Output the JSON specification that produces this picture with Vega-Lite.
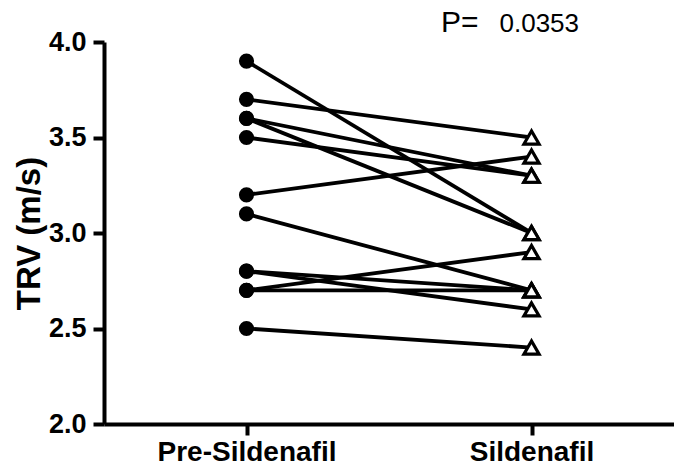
{
  "$schema": "https://vega.github.io/schema/vega-lite/v6.json",
  "width": 570,
  "height": 382,
  "autosize": "none",
  "padding": {"left": 104, "top": 42, "right": 0, "bottom": 49},
  "background": "white",
  "config": {
    "view": {"stroke": null},
    "font": "Liberation Sans",
    "axis": {"domainWidth": 4, "tickWidth": 4, "domainColor": "#000000", "tickColor": "#000000"}
  },
  "datasets": {
    "trv": [
      {"id": 1, "phase": "Pre-Sildenafil", "trv": 3.9},
      {"id": 1, "phase": "Sildenafil", "trv": 3.0},
      {"id": 2, "phase": "Pre-Sildenafil", "trv": 3.7},
      {"id": 2, "phase": "Sildenafil", "trv": 3.5},
      {"id": 3, "phase": "Pre-Sildenafil", "trv": 3.6},
      {"id": 3, "phase": "Sildenafil", "trv": 3.3},
      {"id": 4, "phase": "Pre-Sildenafil", "trv": 3.6},
      {"id": 4, "phase": "Sildenafil", "trv": 3.0},
      {"id": 5, "phase": "Pre-Sildenafil", "trv": 3.5},
      {"id": 5, "phase": "Sildenafil", "trv": 3.3},
      {"id": 6, "phase": "Pre-Sildenafil", "trv": 3.2},
      {"id": 6, "phase": "Sildenafil", "trv": 3.4},
      {"id": 7, "phase": "Pre-Sildenafil", "trv": 3.1},
      {"id": 7, "phase": "Sildenafil", "trv": 2.7},
      {"id": 8, "phase": "Pre-Sildenafil", "trv": 2.8},
      {"id": 8, "phase": "Sildenafil", "trv": 2.7},
      {"id": 9, "phase": "Pre-Sildenafil", "trv": 2.8},
      {"id": 9, "phase": "Sildenafil", "trv": 2.6},
      {"id": 10, "phase": "Pre-Sildenafil", "trv": 2.7},
      {"id": 10, "phase": "Sildenafil", "trv": 2.9},
      {"id": 11, "phase": "Pre-Sildenafil", "trv": 2.7},
      {"id": 11, "phase": "Sildenafil", "trv": 2.7},
      {"id": 12, "phase": "Pre-Sildenafil", "trv": 2.5},
      {"id": 12, "phase": "Sildenafil", "trv": 2.4}
    ],
    "ptext": [
      {"phase": "Sildenafil", "trv": 4.05, "label": "P=", "kind": "p"},
      {"phase": "Sildenafil", "trv": 4.05, "label": "0.0353", "kind": "v"}
    ]
  },
  "layer": [
    {
      "data": {"name": "trv"},
      "mark": {"type": "line", "color": "black", "strokeWidth": 3.8},
      "encoding": {
        "detail": {"field": "id", "type": "nominal"},
        "x": {
          "field": "phase",
          "type": "nominal",
          "scale": {"type": "point", "padding": 0.5, "domain": ["Pre-Sildenafil", "Sildenafil"]},
          "axis": {
            "title": null,
            "labelAngle": 0,
            "tickSize": 11,
            "labelPadding": 3,
            "labelFont": "Liberation Sans",
            "labelFontWeight": "bold",
            "labelFontSize": 28,
            "labelColor": "black",
            "grid": false,
            "encode": {
              "domain": {"update": {"strokeWidth": {"value": 4}, "stroke": {"value": "black"}}},
              "ticks": {"update": {"strokeWidth": {"value": 4}, "stroke": {"value": "black"}}}
            }
          }
        },
        "y": {
          "field": "trv",
          "type": "quantitative",
          "scale": {"domain": [2, 4], "nice": false, "zero": false},
          "axis": {
            "title": "TRV (m/s)",
            "values": [2, 2.5, 3, 3.5, 4],
            "format": ".1f",
            "tickSize": 11,
            "labelPadding": 7,
            "labelFont": "Liberation Sans",
            "labelFontWeight": "bold",
            "labelFontSize": 27,
            "labelColor": "black",
            "titleFont": "Liberation Sans",
            "titleFontWeight": "bold",
            "titleFontSize": 33,
            "titleColor": "black",
            "titlePadding": 2,
            "grid": false,
            "encode": {
              "domain": {"update": {"strokeWidth": {"value": 4}, "stroke": {"value": "black"}}},
              "ticks": {"update": {"strokeWidth": {"value": 4}, "stroke": {"value": "black"}}}
            }
          }
        }
      }
    },
    {
      "data": {"name": "trv"},
      "transform": [{"filter": "datum.phase === 'Pre-Sildenafil'"}],
      "mark": {"type": "point", "shape": "circle", "filled": true, "color": "black", "opacity": 1, "size": 230},
      "encoding": {
        "x": {"field": "phase", "type": "nominal"},
        "y": {"field": "trv", "type": "quantitative"}
      }
    },
    {
      "data": {"name": "trv"},
      "transform": [{"filter": "datum.phase === 'Sildenafil'"}],
      "mark": {"type": "point", "shape": "triangle-up", "filled": false, "fill": "white", "fillOpacity": 1, "stroke": "black", "strokeWidth": 3.2, "opacity": 1, "size": 230},
      "encoding": {
        "x": {"field": "phase", "type": "nominal"},
        "y": {"field": "trv", "type": "quantitative"}
      }
    },
    {
      "data": {"name": "ptext"},
      "transform": [{"filter": "datum.kind === 'p'"}],
      "mark": {"type": "text", "align": "right", "baseline": "alphabetic", "dx": -53, "font": "Liberation Sans", "fontSize": 30, "color": "black", "clip": false},
      "encoding": {
        "x": {"field": "phase", "type": "nominal"},
        "y": {"field": "trv", "type": "quantitative"},
        "text": {"field": "label"}
      }
    },
    {
      "data": {"name": "ptext"},
      "transform": [{"filter": "datum.kind === 'v'"}],
      "mark": {"type": "text", "align": "left", "baseline": "alphabetic", "dx": -32, "font": "Liberation Sans", "fontSize": 26, "color": "black", "clip": false},
      "encoding": {
        "x": {"field": "phase", "type": "nominal"},
        "y": {"field": "trv", "type": "quantitative"},
        "text": {"field": "label"}
      }
    }
  ]
}
